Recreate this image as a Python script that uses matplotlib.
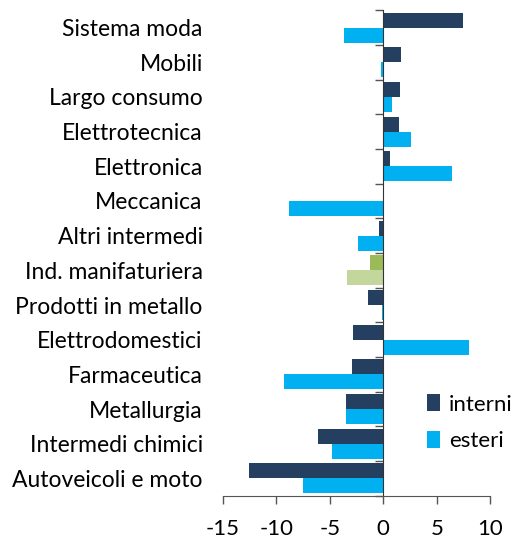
import numpy as np
import matplotlib
matplotlib.use('Agg')
import matplotlib.pyplot as plt
from matplotlib.ticker import FixedLocator

plt.rcParams['font.family'] = ['Lato', 'DejaVu Sans']

categories = ['Sistema moda', 'Mobili', 'Largo consumo', 'Elettrotecnica', 'Elettronica',
              'Meccanica', 'Altri intermedi', 'Ind. manifaturiera', 'Prodotti in metallo',
              'Elettrodomestici', 'Farmaceutica', 'Metallurgia', 'Intermedi chimici',
              'Autoveicoli e moto']
interni = [7.5, 1.7, 1.6, 1.5, 0.6, 0.1, -0.4, -1.25, -1.4, -2.85, -2.9, -3.5, -6.1, -12.55]
esteri = [-3.7, -0.2, 0.8, 2.6, 6.4, -8.8, -2.35, -3.4, -0.1, 8.0, -9.25, -3.45, -4.8, -7.55]
highlight = 'Ind. manifaturiera'

c_int = '#243F60'
c_est = '#00B0F0'
c_int_hl = '#9BBB59'
c_est_hl = '#C3D69B'

fig = plt.figure(figsize=(5.16, 5.4), dpi=100)
ax = fig.add_axes([0.432, 0.082, 0.518, 0.899])

y = np.arange(len(categories))
h = 0.43
col_i = [c_int_hl if c == highlight else c_int for c in categories]
col_e = [c_est_hl if c == highlight else c_est for c in categories]
ax.barh(y - h / 2, interni, height=h, color=col_i, label='interni')
ax.barh(y + h / 2, esteri, height=h, color=col_e, label='esteri')

ax.set_xlim(-15, 10)
ax.set_ylim(len(categories) - 0.5, -0.5)
ax.set_xticks([-15, -10, -5, 0, 5, 10])
ax.set_xticklabels(['-15', '-10', '-5', '0', '5', '10'], fontsize=16)
ax.tick_params(axis='x', direction='out', length=6, width=1, color='#555555', pad=11)

ax.spines['left'].set_position(('data', 0))
ax.spines['right'].set_visible(False)
ax.spines['top'].set_visible(False)
ax.spines['left'].set_color('#333333')
ax.spines['bottom'].set_color('#555555')

ax.set_yticks(y)
ax.set_yticklabels(categories, fontsize=16.5)
ax.tick_params(axis='y', which='major', length=0, pad=130)
ax.yaxis.set_minor_locator(FixedLocator(np.arange(-0.5, len(categories), 1)))
ax.tick_params(axis='y', which='minor', direction='out', length=6, width=1, color='#555555')

leg = ax.legend(loc='lower right', bbox_to_anchor=(1.16, 0.05), frameon=False, fontsize=16,
                handlelength=0.6, handleheight=0.8, handletextpad=0.4, labelspacing=0.75)

fig.savefig('out.png', dpi=100)
